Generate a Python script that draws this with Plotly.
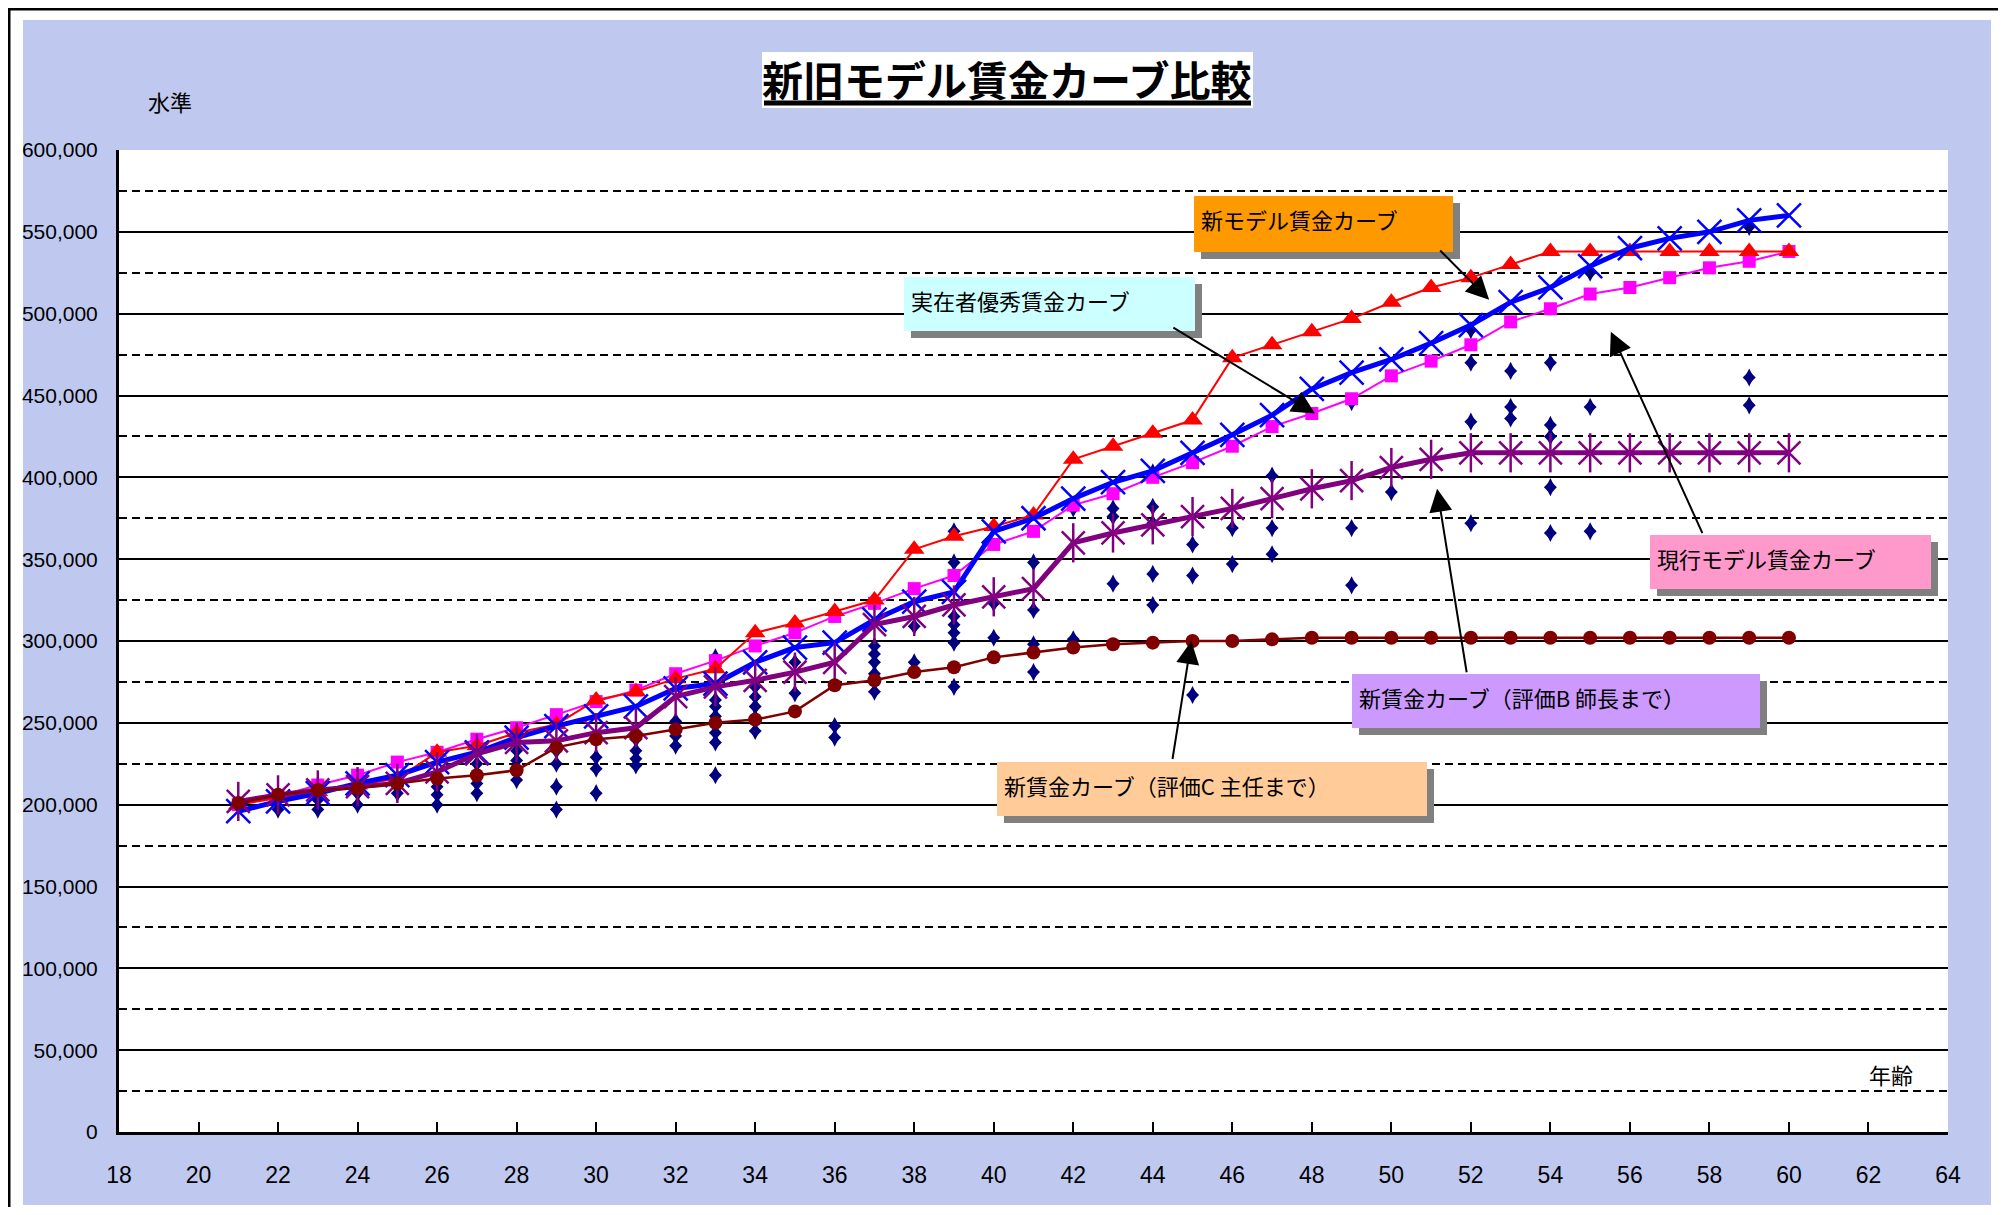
import plotly.graph_objects as go

# ---------------- data ----------------
ages = list(range(21, 61))

# 新モデル賃金カーブ (red, triangles)
new_model = [200000, 204000, 208000, 212000, 216000, 232000, 236000, 244000, 249000, 264000,
             269000, 277000, 283000, 305000, 311000, 318000, 325000, 356000, 364000, 370000,
             377000, 411000, 419000, 427000, 435000, 473000, 481000, 489000, 497000, 507000,
             516000, 522000, 530000, 538000, 538000, 538000, 538000, 538000, 538000, 538000]

# 現行モデル賃金カーブ (magenta, squares)
current_model = [200000, 205000, 212000, 218000, 226000, 232000, 240000, 247000, 255000, 263000,
                 270000, 280000, 288000, 297000, 305000, 315000, 323000, 332000, 340000, 359000,
                 367000, 383000, 390000, 400000, 409000, 419000, 431000, 439000, 448000, 462000,
                 471000, 481000, 495000, 503000, 512000, 516000, 522000, 528000, 532000, 538000]

# 実在者優秀賃金カーブ (blue, x)
best_actual = [196000, 202000, 207000, 213000, 218000, 226000, 232000, 241000, 248000, 254000,
               260000, 271000, 274000, 287000, 296000, 299000, 313000, 324000, 330000, 367000,
               375000, 387000, 397000, 404000, 415000, 426000, 438000, 454000, 464000, 472000,
               482000, 493000, 507000, 516000, 529000, 540000, 546000, 550000, 557000, 560000]

# 新賃金カーブ（評価B 師長まで）(purple, stars)
grade_b = [202000, 206000, 209000, 211000, 213000, 220000, 231000, 238000, 239000, 244000,
           247000, 266000, 272000, 276000, 281000, 287000, 310000, 315000, 322000, 327000,
           332000, 360000, 366000, 371000, 376000, 381000, 387000, 393000, 398000, 406000,
           411000, 415000, 415000, 415000, 415000, 415000, 415000, 415000, 415000, 415000]

# 新賃金カーブ（評価C 主任まで）(dark red, circles)
grade_c = [201000, 206000, 209000, 210000, 213000, 216000, 218000, 221000, 235000, 240000,
           242000, 246000, 250000, 252000, 257000, 273000, 276000, 281000, 284000, 290000,
           293000, 296000, 298000, 299000, 300000, 300000, 301000, 302000, 302000, 302000,
           302000, 302000, 302000, 302000, 302000, 302000, 302000, 302000, 302000, 302000]

# 実在者 (navy diamonds)
actual_age = [22, 23, 23, 23, 24, 24, 25, 25, 26, 26, 26, 27, 27, 27, 27, 28, 28, 28,
              29, 29, 29, 29, 30, 30, 30, 31, 31, 31, 31, 32, 32, 32,
              33, 33, 33, 33, 33, 33, 33, 34, 34, 34, 34, 34, 35, 35, 36, 36,
              37, 37, 37, 37, 37, 38, 38, 39, 39, 39, 39, 39, 39, 39, 40, 40,
              41, 41, 41, 41, 42, 42, 43, 43, 43, 44, 44, 44, 44, 44, 45, 45, 45,
              46, 46, 47, 47, 47, 49, 49, 49, 50, 52, 52, 52, 52, 53, 53, 53,
              54, 54, 54, 54, 54, 55, 55, 55, 59, 59, 59]
actual_wage = [197000, 211000, 203000, 197000, 200000, 207000, 207000, 211000, 211000, 206000, 200000,
               225000, 219000, 213000, 207000, 233000, 227000, 215000,
               233000, 225000, 211000, 197000, 229000, 222000, 207000, 240000, 233000, 228000, 224000,
               251000, 242000, 236000,
               290000, 264000, 260000, 254000, 244000, 238000, 218000, 272000, 266000, 260000, 253000, 245000,
               287000, 268000, 248000, 241000,
               297000, 292000, 287000, 280000, 269000, 309000, 287000,
               367000, 348000, 315000, 310000, 305000, 299000, 272000, 323000, 302000,
               348000, 319000, 298000, 281000, 381000, 301000, 381000, 376000, 335000,
               403000, 382000, 372000, 341000, 322000, 359000, 340000, 267000,
               369000, 347000, 401000, 369000, 353000, 446000, 369000, 334000, 391000,
               490000, 470000, 434000, 372000, 465000, 443000, 436000,
               470000, 432000, 425000, 394000, 366000, 525000, 443000, 367000, 553000, 461000, 444000]

x_ticks = list(range(18, 66, 2))
title_text = "新旧モデル賃金カーブ比較"
y_title = "水準"
x_title = "年齢"

# ---------------- layout geometry ----------------
# page pixel positions (the html body adds an 8px margin around the figure)
OFF = 8
W, H = 2006 - 2 * OFF, 1215 - 2 * OFF
PL, PR, PT, PB = 119, 1948, 150, 1132          # plot area in page pixels
L, R, T, B = PL - OFF, PR - OFF, PT - OFF, PB - OFF


def px_x(p):
    return (p - OFF - L) / (R - L)


def px_y(p):
    return (B - (p - OFF)) / (B - T)


JP = "Noto Sans CJK JP"
NUM = "Liberation Sans, Arial, sans-serif"

fig = go.Figure()

fig.add_trace(go.Scatter(x=actual_age, y=actual_wage, mode="markers", name="実在者",
                         marker=dict(symbol="diamond", size=10, color="#000080",
                                     line=dict(width=0))))
fig.add_trace(go.Scatter(x=actual_age, y=actual_wage, mode="markers", showlegend=False,
                         marker=dict(symbol="diamond-tall", size=13, color="#000080",
                                     line=dict(width=0))))
fig.add_trace(go.Scatter(x=ages, y=current_model, mode="lines+markers", name="現行モデル賃金カーブ",
                         line=dict(color="#FF00FF", width=2),
                         marker=dict(symbol="square", size=13, color="#FF00FF")))
fig.add_trace(go.Scatter(x=ages, y=new_model, mode="lines+markers", name="新モデル賃金カーブ",
                         line=dict(color="#FF0000", width=2),
                         marker=dict(symbol="triangle-up", size=18, color="#FF0000")))
fig.add_trace(go.Scatter(x=ages, y=best_actual, mode="lines+markers", name="実在者優秀賃金カーブ",
                         line=dict(color="#0000FF", width=5),
                         marker=dict(symbol="x-thin-open", size=24, color="#0000FF",
                                     line=dict(width=2.5, color="#0000FF"))))
fig.add_trace(go.Scatter(x=ages, y=grade_b, mode="lines+markers", name="新賃金カーブ（評価B 師長まで）",
                         line=dict(color="#800080", width=5),
                         marker=dict(symbol="x-thin-open", size=23, color="#800080",
                                     line=dict(width=2.5, color="#800080"))))
fig.add_trace(go.Scatter(x=ages, y=grade_b, mode="markers", showlegend=False,
                         marker=dict(symbol="line-ns-open", size=28, color="#800080",
                                     line=dict(width=2.5, color="#800080"))))
fig.add_trace(go.Scatter(x=ages, y=grade_c, mode="lines+markers", name="新賃金カーブ（評価C 主任まで）",
                         line=dict(color="#800000", width=2.5),
                         marker=dict(symbol="circle", size=14, color="#800000")))

shapes = []
# outer frame (left and top edges visible, right/bottom run off the picture)
shapes.append(dict(type="rect", xref="paper", yref="paper", layer="below",
                   x0=px_x(9), x1=px_x(2040), y0=px_y(1250), y1=px_y(9),
                   line=dict(color="black", width=3), fillcolor="rgba(0,0,0,0)"))
# textured background (approximated by a flat pastel)
shapes.append(dict(type="rect", xref="paper", yref="paper", layer="below",
                   x0=px_x(23), x1=px_x(1991), y0=px_y(1205), y1=px_y(20),
                   line=dict(width=0), fillcolor="#BFC9F0"))
# white plot area
shapes.append(dict(type="rect", xref="paper", yref="paper", layer="below",
                   x0=0, x1=1, y0=0, y1=1, line=dict(width=0), fillcolor="white"))
# title box & underline
shapes.append(dict(type="rect", xref="paper", yref="paper", layer="below",
                   x0=px_x(762), x1=px_x(1253), y0=px_y(108), y1=px_y(52),
                   line=dict(width=0), fillcolor="white"))
shapes.append(dict(type="line", xref="paper", yref="paper", layer="below",
                   x0=px_x(764), x1=px_x(1251), y0=px_y(103), y1=px_y(103),
                   line=dict(color="black", width=5)))

annotations = []
annotations.append(dict(text="<b>" + title_text + "</b>", xref="paper", yref="paper",
                        x=px_x(1007), y=px_y(78), xanchor="center", yanchor="middle",
                        showarrow=False, font=dict(family=JP, size=41, color="black")))
annotations.append(dict(text=y_title, xref="paper", yref="paper", x=px_x(170), y=px_y(101),
                        xanchor="center", yanchor="middle", showarrow=False,
                        font=dict(family=JP, size=22, color="black")))
annotations.append(dict(text=x_title, xref="paper", yref="paper", x=px_x(1891), y=px_y(1074),
                        xanchor="center", yanchor="middle", showarrow=False,
                        font=dict(family=JP, size=22, color="black")))

# callout boxes: text, colour, x0, y0, x1, y1 (page pixels)
boxes = [
    ("新モデル賃金カーブ", "#FF9900", 1194, 196, 1453, 252),
    ("実在者優秀賃金カーブ", "#CCFFFF", 904, 277, 1195, 331),
    ("現行モデル賃金カーブ", "#FF99CC", 1650, 535, 1931, 589),
    ("新賃金カーブ（評価B 師長まで）", "#CC99FF", 1352, 674, 1760, 728),
    ("新賃金カーブ（評価C 主任まで）", "#FFCC99", 997, 762, 1427, 816),
]
SH = 7
PAD = 7
for text, col, x0, y0, x1, y1 in boxes:
    shapes.append(dict(type="rect", xref="paper", yref="paper", layer="above",
                       x0=px_x(x0 + SH), x1=px_x(x1 + SH), y0=px_y(y1 + SH), y1=px_y(y0 + SH),
                       line=dict(width=0), fillcolor="#808080"))
    annotations.append(dict(text=text, xref="paper", yref="paper", x=px_x(x0), y=px_y(y0),
                            xanchor="left", yanchor="top", showarrow=False,
                            width=(x1 - x0) - 2 * PAD, height=(y1 - y0) - 2 * PAD,
                            borderpad=PAD, borderwidth=0, bgcolor=col,
                            align="left", valign="top",
                            font=dict(family=JP, size=22, color="black")))

# arrows: tail (age, wage) -> tip (age, wage)
arrows = [
    ((51.19, 539500), (52.46, 508500)),
    ((44.48, 492000), (48.08, 439000)),
    ((57.84, 365000), (55.52, 489000)),
    ((51.90, 280000), (51.15, 393000)),
    ((44.49, 227000), (44.97, 300000)),
]
for (ax_, ay_), (x_, y_) in arrows:
    annotations.append(dict(text="", x=x_, y=y_, ax=ax_, ay=ay_, xref="x", yref="y",
                            axref="x", ayref="y", showarrow=True, arrowhead=2,
                            arrowsize=2.3, arrowwidth=2, arrowcolor="black", standoff=0,
                            startstandoff=0))

fig.update_layout(
    width=W, height=H,
    margin=dict(l=L, r=W - R, t=T, b=H - B, pad=0),
    paper_bgcolor="white", plot_bgcolor="rgba(0,0,0,0)",
    showlegend=False,
    shapes=shapes, annotations=annotations,
    xaxis=dict(range=[18, 64], tickvals=x_ticks, showgrid=False, zeroline=False,
               showline=True, linecolor="black", linewidth=3,
               ticks="inside", ticklen=10, tickwidth=2, tickcolor="black",
               tickfont=dict(family=NUM, size=23, color="black"), ticklabelstandoff=20),
    yaxis=dict(range=[0, 600000], tick0=0, dtick=50000, tickformat=",",
               showgrid=True, gridcolor="black", gridwidth=2, zeroline=False,
               showline=True, linecolor="black", linewidth=3,
               ticks="inside", ticklen=6, tickwidth=2, tickcolor="black",
               tickfont=dict(family=NUM, size=21, color="black"), ticklabelstandoff=14,
               minor=dict(tick0=0, dtick=25000, showgrid=True, gridcolor="black",
                          gridwidth=2, griddash="8px,5px")),
)

fig.write_html("out.html")
